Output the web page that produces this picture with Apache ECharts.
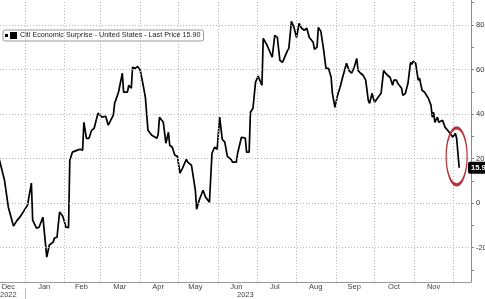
<!DOCTYPE html>
<html>
<head>
<meta charset="utf-8">
<script src="https://cdn.jsdelivr.net/npm/echarts@6/dist/echarts.min.js"></script>
<style>html,body{margin:0;padding:0;background:#fff;}#c{width:485px;height:299px;}</style>
</head>
<body>
<div id="c"></div>
<script>
const seriesName = 'Citi Economic Surprise - United States - Last Price 15.90';
const dates = [
'2022-12-12','2022-12-16','2022-12-19','2022-12-23','2022-12-26','2022-12-28','2022-12-30',
'2023-01-03','2023-01-06','2023-01-07','2023-01-10','2023-01-12','2023-01-15','2023-01-16','2023-01-18','2023-01-20','2023-01-23','2023-01-24','2023-01-26','2023-01-28','2023-01-30','2023-01-31',
'2023-02-02','2023-02-04','2023-02-05','2023-02-07','2023-02-11','2023-02-13','2023-02-15','2023-02-16','2023-02-18','2023-02-20','2023-02-22','2023-02-24','2023-02-27',
'2023-03-02','2023-03-05','2023-03-07','2023-03-08','2023-03-11','2023-03-12','2023-03-15','2023-03-16','2023-03-18','2023-03-19','2023-03-22','2023-03-23','2023-03-25','2023-03-26','2023-03-28','2023-03-30',
'2023-04-01','2023-04-03','2023-04-05','2023-04-07','2023-04-10','2023-04-14','2023-04-15','2023-04-16','2023-04-19','2023-04-21','2023-04-23','2023-04-24','2023-04-26','2023-04-28','2023-04-30',
'2023-05-02','2023-05-04','2023-05-05','2023-05-07','2023-05-08','2023-05-11','2023-05-14','2023-05-15','2023-05-17','2023-05-18','2023-05-20','2023-05-22','2023-05-25','2023-05-27','2023-05-29','2023-05-31',
'2023-06-02','2023-06-04','2023-06-06','2023-06-08','2023-06-11','2023-06-12','2023-06-15','2023-06-16','2023-06-19','2023-06-22','2023-06-23','2023-06-25','2023-06-26','2023-06-28','2023-06-30',
'2023-07-02','2023-07-05','2023-07-06','2023-07-09','2023-07-10','2023-07-13','2023-07-15','2023-07-17','2023-07-19','2023-07-21','2023-07-25','2023-07-26','2023-07-28','2023-07-30',
'2023-08-01','2023-08-03','2023-08-05','2023-08-07','2023-08-09','2023-08-11','2023-08-14','2023-08-15','2023-08-17','2023-08-18','2023-08-20','2023-08-22','2023-08-24','2023-08-26','2023-08-28','2023-08-29','2023-08-31',
'2023-09-02','2023-09-04','2023-09-06','2023-09-09','2023-09-11','2023-09-13','2023-09-15','2023-09-17','2023-09-18','2023-09-20','2023-09-22','2023-09-24','2023-09-26','2023-09-27','2023-09-29','2023-09-30',
'2023-10-01','2023-10-03','2023-10-04','2023-10-06','2023-10-08','2023-10-09','2023-10-11','2023-10-13','2023-10-15','2023-10-16','2023-10-18','2023-10-19','2023-10-22','2023-10-23','2023-10-25','2023-10-27','2023-10-29','2023-10-30','2023-10-31',
'2023-11-02','2023-11-04','2023-11-05','2023-11-07','2023-11-09','2023-11-12','2023-11-14','2023-11-15','2023-11-16','2023-11-17','2023-11-19','2023-11-20','2023-11-23','2023-11-25','2023-11-27','2023-11-30',
'2023-12-01','2023-12-03','2023-12-04','2023-12-06'
];
const values = [
19.5,10.3,-1.8,-10.3,-7.6,-6.3,-4.5,
-0.9,9,-7.6,-11.2,-10.8,-6.3,-6.7,-24.2,-18.8,-17.5,-15.7,-15.3,-4,-5.4,-6.7,
-10.8,-11,19.3,22.9,23.8,24.2,23.8,36.3,29.1,29.1,32.7,33.6,40.4,
38.6,39,35,35.2,39.5,44.8,49.8,50,58.3,49.8,49.8,52.9,51.6,61,60.5,61.4,
59.6,53.8,47.5,32.7,30.5,29.1,30.9,38.6,36.3,26.9,31.8,26,25.1,21.5,21,
13.5,15.7,16,19.7,18.4,17,5.8,-2.7,1.3,1.3,5.8,2.7,0.4,22.4,25.1,24.2,
38.6,28.7,27.4,21,19.5,18.4,18.4,22.4,29.6,29.2,22.9,22.9,40.8,42.6,54.3,
57,52.9,74,70.9,70.5,65.5,75.3,74.4,64.1,63.2,68.6,69.5,81.6,78.9,
74.4,80.7,78.5,77.6,78.5,74.4,72.2,69,70,78.9,77.1,69.5,60.5,60.5,56.5,49.3,43,
48.4,52,56.5,62.8,59.5,58.3,61,65,59.6,58.3,57.4,55.2,46.2,44.8,49.3,47,
45.3,47,46.2,49.3,59.6,58.7,57.4,56.5,52.9,55.2,55.2,53.8,51.6,48.4,49.3,53.8,63.2,62.3,63.7,
62.8,55.2,56.1,50.7,49.8,47,43.9,38.6,40.8,36.3,38.6,36.3,37.2,34,32.7,30.5,
29.6,31.4,29.1,15.9
];
const lastPrice = 15.9;
const monthStarts = ['2023-01-01','2023-02-01','2023-03-01','2023-04-01','2023-05-01','2023-06-01','2023-07-01','2023-08-01','2023-09-01','2023-10-01','2023-11-01','2023-12-01'];
const monthLabelDates = ['2022-12-19','2023-01-16','2023-02-14','2023-03-16','2023-04-15','2023-05-14','2023-06-15','2023-07-15','2023-08-16','2023-09-15','2023-10-16','2023-11-16'];
const monthLabels = ['Dec\n2022','Jan','Feb','Mar','Apr','May','Jun\n{yr|2023}','Jul','Aug','Sep','Oct','Nov'];
const yTickValues = [-30,-20,-10,0,10,20,30,40,50,60,70,80,90];
const yLabelValues = [-20,0,20,40,60,80];
const yGridValues = [-20,0,20,40,60,80];
const xMin = '2022-12-12T12:00:00';
const xMax = '2023-12-15T05:00:00';
const yMin = -35.4, yMax = 91.2;
const yearBreak = ['2023-01-01'];
const circleAt = ['2023-12-04', 21];

const P = s => echarts.number.parseDate(s).getTime();
const labelMap = {};
monthLabelDates.forEach((d, i) => { labelMap[P(d)] = monthLabels[i]; });

const chart = echarts.init(document.getElementById('c'), null, {renderer: 'canvas'});
const font = 'Liberation Sans';
const gridLineStyle = {color: '#b8b8b8', type: [1, 2], width: 1};

chart.setOption({
  animation: false,
  backgroundColor: '#fff',
  textStyle: {fontFamily: font},
  grid: {left: 0, right: 14, top: 0, bottom: 17, containLabel: false, outerBoundsMode: 'none'},
  legend: {
    data: [seriesName],
    left: 3, top: 30,
    itemWidth: 12, itemHeight: 7, itemGap: 4,
    icon: 'path://M0,2h3v3h-3z M5,0h7v7h-7z',
    backgroundColor: '#fff',
    borderColor: '#999', borderWidth: 1, borderRadius: 2,
    padding: [2, 3, 2, 2],
    textStyle: {fontFamily: font, fontSize: 7.2, color: '#222', padding: [1, 0, 0, -2]}
  },
  xAxis: [{
    type: 'value',
    min: P(xMin), max: P(xMax),
    axisLine: {show: true, onZero: false, lineStyle: {color: '#999', width: 1}},
    axisTick: {show: false},
    splitLine: {show: false},
    axisLabel: {
      customValues: monthLabelDates.map(P),
      formatter: v => labelMap[v] || '',
      fontFamily: font, fontSize: 7.5, color: '#444', lineHeight: 8,
      margin: 1, hideOverlap: false,
      rich: {yr: {fontFamily: font, fontSize: 7.5, color: '#444', lineHeight: 8, padding: [0, 0, 0, 18]}}
    }
  }, {
    type: 'value',
    gridIndex: 0,
    position: 'bottom',
    offset: 6,
    min: P(xMin), max: P(xMax),
    axisLine: {show: false, onZero: false},
    axisLabel: {show: false},
    splitLine: {show: false},
    axisTick: {show: true, customValues: yearBreak.map(P), length: 11, lineStyle: {color: '#bbb'}}
  }],
  yAxis: {
    type: 'value',
    position: 'right',
    min: yMin, max: yMax,
    axisLine: {show: true, onZero: false, lineStyle: {color: '#888', width: 1}},
    axisTick: {show: true, customValues: yTickValues, length: 3, lineStyle: {color: '#888'}},
    splitLine: {show: false},
    axisLabel: {
      customValues: yLabelValues,
      fontFamily: font, fontSize: 7.5, color: '#333', margin: 5
    }
  },
  series: [{
    name: 'grid',
    type: 'line',
    data: [],
    z: 1,
    clip: false,
    silent: true,
    markLine: {
      silent: true, symbol: 'none', animation: false,
      label: {show: false},
      lineStyle: gridLineStyle,
      emphasis: {disabled: true},
      data: yGridValues.map(v => ({yAxis: v})).concat(monthStarts.map(d => ({xAxis: P(d)})))
    }
  }, {
    name: 'last',
    type: 'line',
    data: [],
    z: 5,
    clip: false,
    silent: true,
    markLine: {
      silent: true, symbol: 'none', animation: false,
      lineStyle: {color: 'rgba(0,0,0,0)', width: 0},
      emphasis: {disabled: true},
      label: {
        show: true, position: 'end', distance: -3,
        formatter: () => String(lastPrice),
        backgroundColor: '#000', color: '#fff', opacity: 1,
        fontFamily: font, fontSize: 7.5, fontWeight: 'bold',
        padding: [2, 3, 2, 3], borderRadius: 2
      },
      data: [{yAxis: lastPrice}]
    }
  }, {
    name: seriesName,
    type: 'line',
    z: 3,
    data: dates.map((d, i) => [P(d), values[i]]),
    showSymbol: false,
    symbol: 'none',
    itemStyle: {color: '#000'},
    lineStyle: {color: '#000', width: 1.7},
    markPoint: {
      silent: true, animation: false,
      symbol: 'circle',
      symbolSize: [21, 57],
      itemStyle: {color: 'rgba(0,0,0,0)', borderColor: '#b8313a', borderWidth: 2},
      label: {show: false},
      data: [{coord: [P(circleAt[0]), circleAt[1]]}]
    }
  }]
});
</script>
</body>
</html>
